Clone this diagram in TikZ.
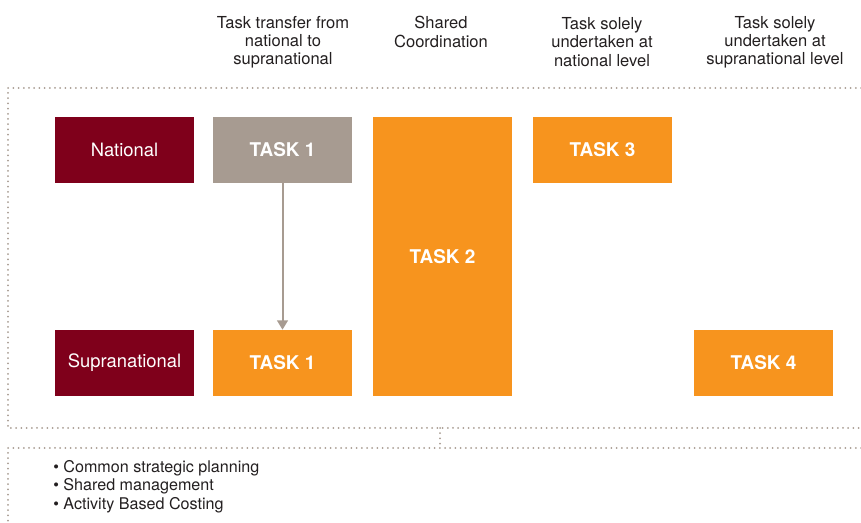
\documentclass[tikz,border=0pt]{standalone}
\usepackage{fontspec}
\setmainfont{TeX Gyre Heros}
\usetikzlibrary{arrows.meta}
\definecolor{white}{RGB}{255,255,255}
\definecolor{ink}{RGB}{35,31,32}
\definecolor{wine}{RGB}{127,0,27}
\definecolor{taupe}{RGB}{167,155,145}
\definecolor{amber}{RGB}{247,148,30}

\tikzset{
	level/.style={rectangle,fill=wine,text=white,minimum width=104.25pt,minimum height=49.5pt,inner sep=0pt,font=\fontsize{13.8}{16}\selectfont},
	taskbox/.style={rectangle,fill=amber,text=white,minimum width=104.25pt,minimum height=49.5pt,inner sep=0pt,font=\fontsize{14.2}{16}\selectfont\bfseries},
	heading/.style={align=center,text=ink,inner sep=0pt,font=\fontsize{12.4}{13.6}\selectfont},
	dotline/.style={taupe,line width=1.5pt,line cap=round,dash pattern=on 0pt off 3.9pt}
}

\begin{document}
\begin{tikzpicture}[x=0.75pt,y=-0.75pt]
	\useasboundingbox (0,0) rectangle (861,523);

	% column headings
	\node[heading] (h1) at (283,42) {Task transfer from\\national to\\supranational};
	\node[heading] (h2) at (441,32) {Shared\\Coordination};
	\node[heading] (h3) at (602,42) {Task solely\\undertaken at\\national level};
	\node[heading] (h4) at (775,42) {Task solely\\undertaken at\\supranational level};

	% dotted frames
	\draw[dotline] (861,88) -- (8,88) -- (8,428) -- (861,428);
	\draw[dotline] (861,448) -- (8,448) -- (8,523);
	\coordinate (top) at (440,428);
	\coordinate (bottom) at (440,448);
	\draw[dotline] (top) -- (bottom);

	% rows
	\node[level] (nat) at (124.5,150) {National};
	\node[level] (sup) at (124.5,363) {Supranational};

	% tasks
	\node[taskbox,fill=taupe] (t1n) at (282.5,150) {TASK 1};
	\node[taskbox] (t1s) at (282.5,363) {TASK 1};
	\node[taskbox,minimum height=209.25pt] (t2) at (442.5,256.5) {TASK 2};
	\node[taskbox] (t3) at (602.5,150) {TASK 3};
	\node[taskbox] (t4) at (763.5,363) {TASK 4};

	\draw[taupe,line width=1.5pt,-{Triangle[length=7pt,width=8pt]}] (t1n) -- (t1s);

	% notes
	\node[anchor=north west,align=left,text=ink,inner sep=0pt,font=\fontsize{12.1}{13.9}\selectfont] (notes) at (53,460)
		{\textbullet\ Common strategic planning\\\textbullet\ Shared management\\\textbullet\ Activity Based Costing};
\end{tikzpicture}
\end{document}
